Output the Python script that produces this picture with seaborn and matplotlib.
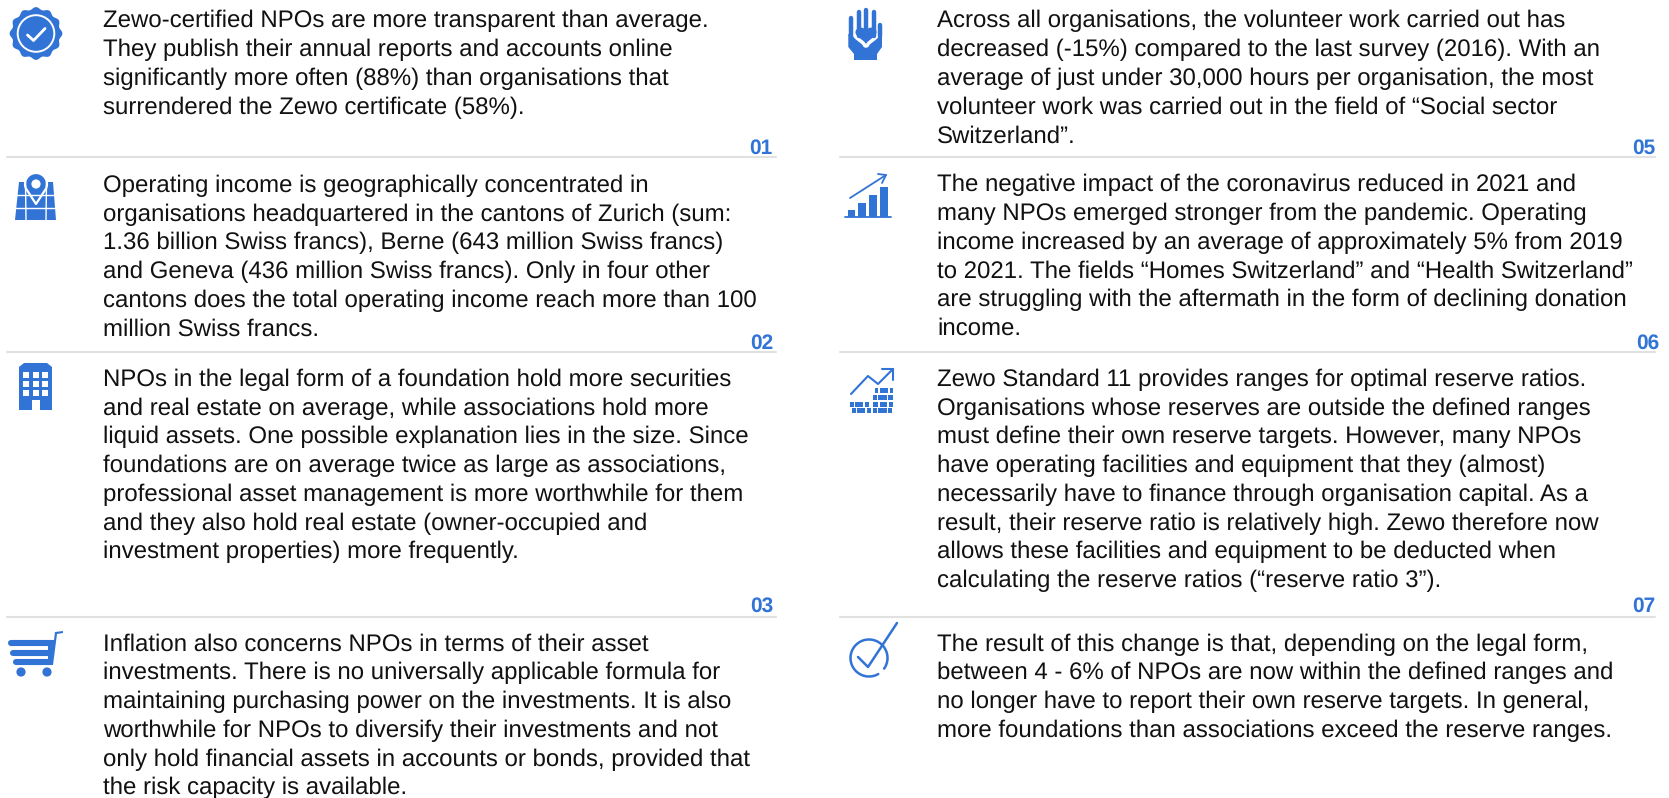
"""Key findings panel: eight numbered text blocks with small icons."""

import matplotlib.pyplot as plt
import numpy as np
import seaborn as sns
from matplotlib.patches import Circle, Polygon, Rectangle

BLUE = "#3174d6"
GRID = "#e1e1e1"
WIDTH, HEIGHT = 1669, 798

block_1 = [
    "Zewo-certified NPOs are more transparent than average.",
    "They publish their annual reports and accounts online",
    "significantly more often (88%) than organisations that",
    "surrendered the Zewo certificate (58%).",
]
block_2 = [
    "Operating income is geographically concentrated in",
    "organisations headquartered in the cantons of Zurich (sum:",
    "1.36 billion Swiss francs), Berne (643 million Swiss francs)",
    "and Geneva (436 million Swiss francs). Only in four other",
    "cantons does the total operating income reach more than 100",
    "million Swiss francs.",
]
block_3 = [
    "NPOs in the legal form of a foundation hold more securities",
    "and real estate on average, while associations hold more",
    "liquid assets. One possible explanation lies in the size. Since",
    "foundations are on average twice as large as associations,",
    "professional asset management is more worthwhile for them",
    "and they also hold real estate (owner-occupied and",
    "investment properties) more frequently.",
]
block_4 = [
    "Inflation also concerns NPOs in terms of their asset",
    "investments. There is no universally applicable formula for",
    "maintaining purchasing power on the investments. It is also",
    "worthwhile for NPOs to diversify their investments and not",
    "only hold financial assets in accounts or bonds, provided that",
    "the risk capacity is available.",
]
block_5 = [
    "Across all organisations, the volunteer work carried out has",
    "decreased (-15%) compared to the last survey (2016). With an",
    "average of just under 30,000 hours per organisation, the most",
    "volunteer work was carried out in the field of \u201cSocial sector",
    "Switzerland\u201d.",
]
block_6 = [
    "The negative impact of the coronavirus reduced in 2021 and",
    "many NPOs emerged stronger from the pandemic. Operating",
    "income increased by an average of approximately 5% from 2019",
    "to 2021. The fields \u201cHomes Switzerland\u201d and \u201cHealth Switzerland\u201d",
    "are struggling with the aftermath in the form of declining donation",
    "income.",
]
block_7 = [
    "Zewo Standard 11 provides ranges for optimal reserve ratios.",
    "Organisations whose reserves are outside the defined ranges",
    "must define their own reserve targets. However, many NPOs",
    "have operating facilities and equipment that they (almost)",
    "necessarily have to finance through organisation capital. As a",
    "result, their reserve ratio is relatively high. Zewo therefore now",
    "allows these facilities and equipment to be deducted when",
    "calculating the reserve ratios (\u201creserve ratio 3\u201d).",
]
block_8 = [
    "The result of this change is that, depending on the legal form,",
    "between 4 - 6% of NPOs are now within the defined ranges and",
    "no longer have to report their own reserve targets. In general,",
    "more foundations than associations exceed the reserve ranges.",
]
blocks = [block_1, block_2, block_3, block_4, block_5, block_6, block_7, block_8]
block_numbers = ["01", "02", "03", None, "05", "06", "07", None]

text_x = [103, 103, 103, 103, 937, 937, 937, 937]
text_y = [27.5, 192, 386, 650.7, 27.5, 191.5, 386, 650.7]
number_x = [772, 773, 773, None, 1655, 1659, 1655, None]
number_y = [154, 349, 612, None, 154, 349, 612, None]
LINE_PITCH = 28.72


def badge_icon(ax):
    angles = np.linspace(0, 2 * np.pi, 361)
    radius = 25.2 + 1.2 * np.cos(12 * angles)
    ax.add_patch(Polygon(np.c_[36 + radius * np.sin(angles), 33.5 - radius * np.cos(angles)], color=BLUE, lw=0))
    ax.add_patch(Circle((36, 33.5), 18.3, fill=False, ec="white", lw=1.4))
    ax.plot([27.5, 33.5, 45], [35, 40.5, 28.5], color="white", lw=2, solid_capstyle="round")


def map_icon(ax):
    ax.add_patch(Polygon([(19, 182), (53, 182), (56, 220), (15, 220)], color=BLUE, lw=0))
    for y in (195, 208):
        ax.plot([14, 58], [y, y], color="white", lw=1)
    ax.plot([25.5, 26], [182, 220], color="white", lw=1)
    ax.plot([46.5, 46], [182, 220], color="white", lw=1)
    t = np.radians(np.linspace(-25, 205, 60))
    pin = np.r_[np.c_[36 + 11 * np.cos(t), 184 - 11 * np.sin(t)], [[36, 204]]]
    ax.add_patch(Polygon(pin, fc=BLUE, ec="white", lw=1.6, joinstyle="round"))
    ax.add_patch(Circle((36, 184), 4.6, color="white", lw=0))


def building_icon(ax):
    ax.add_patch(Polygon([(19, 367), (24, 363), (47, 363), (52, 367), (52, 410), (19, 410)], color=BLUE, lw=0))
    for wx in (23, 32.5, 42):
        for wy in (372, 381, 390):
            ax.add_patch(Rectangle((wx, wy), 6, 6, color="white", lw=0))
    ax.add_patch(Rectangle((32, 400), 8, 10, color="white", lw=0))


def cart_icon(ax):
    ax.add_patch(Polygon([(48, 640), (54, 640), (55, 632), (63, 631), (63, 633), (57, 634), (53, 665), (48, 665)],
                         color=BLUE, lw=0))
    for x0, x1, y in ((11, 52, 643), (13, 50, 653), (16, 49, 662)):
        ax.plot([x0, x1], [y, y], color=BLUE, lw=4.4, solid_capstyle="round")
    for x in (21, 47):
        ax.add_patch(Circle((x, 672), 4.6, color=BLUE, lw=0))


def hand_icon(ax):
    for x, top in ((850.5, 18), (859, 12), (866, 9.5), (874, 12), (879.5, 25)):
        ax.plot([x, x], [top, 36], color=BLUE, lw=3.2, solid_capstyle="round")
    palm = [(848.3, 34), (848.3, 47), (854, 54), (854, 60), (877, 60), (877, 54), (882, 47), (882, 28),
            (878, 28), (853, 34)]
    ax.add_patch(Polygon(palm, color=BLUE, lw=0))
    t = np.linspace(0, 2 * np.pi, 100)
    hx = 16 * np.sin(t) ** 3
    hy = 13 * np.cos(t) - 5 * np.cos(2 * t) - 2 * np.cos(3 * t) - np.cos(4 * t)
    heart = np.c_[866 + hx * 0.66, 34.5 - hy * 0.58]
    ax.add_patch(Polygon(heart, fc=BLUE, ec="white", lw=5, joinstyle="round"))
    ax.add_patch(Polygon(heart, fc=BLUE, lw=0))


def growth_icon(ax):
    ax.plot([845, 891], [217, 217], color=BLUE, lw=1.3)
    for x0, x1, top in ((848, 855, 210), (858, 866, 203), (869, 877, 195), (880, 888, 187)):
        ax.add_patch(Rectangle((x0, top), x1 - x0, 217 - top, color=BLUE, lw=0))
    ax.plot([850, 886], [198, 175], color=BLUE, lw=1.3)
    ax.plot([878, 886, 882], [174, 175, 183], color=BLUE, lw=1.3)


def reserve_icon(ax):
    ax.plot([851, 868, 878, 893], [394, 376, 384, 369], color=BLUE, lw=1.5)
    ax.plot([882, 893, 893], [369, 369, 380], color=BLUE, lw=1.5)
    rows = {
        388: [(875, 878), (880, 888), (890, 893)],
        395: [(873, 877), (878, 887), (888, 893)],
        402: [(850, 854), (855, 863), (865, 869), (873, 878), (880, 887), (889, 893)],
        408: [(852, 856), (857, 865), (867, 871), (873, 877), (878, 887), (888, 892)],
    }
    for y, spans in rows.items():
        for x0, x1 in spans:
            ax.add_patch(Rectangle((x0, y), x1 - x0, 5, color=BLUE, lw=0))


def check_icon(ax):
    t = np.radians(np.linspace(-35, 300, 100))
    ax.plot(869 + 18.5 * np.cos(t), 658 - 18.5 * np.sin(t), color=BLUE, lw=1.8, solid_capstyle="round")
    ax.plot([858, 868, 897], [657, 667, 623], color=BLUE, lw=1.8, solid_capstyle="round")


sns.set_theme(style="white")
plt.rcParams["font.family"] = ["Liberation Sans", "DejaVu Sans"]
plt.rcParams["text.hinting"] = "none"

fig, ax = plt.subplots(figsize=(WIDTH / 100, HEIGHT / 100), dpi=100)
ax.set_position([0, 0, 1, 1])
ax.set_xlim(0, WIDTH)
ax.set_ylim(HEIGHT, 0)
ax.axis("off")

for y in (157, 352, 617):
    ax.plot([7, 776], [y, y], color=GRID, lw=1.5)
    ax.plot([840, 1655], [y, y], color=GRID, lw=1.5)

for lines, x, y in zip(blocks, text_x, text_y):
    for i, line in enumerate(lines):
        ax.text(x, y + i * LINE_PITCH, line, fontsize=17.3, color="#111111", va="baseline", ha="left")

for label, x, y in zip(block_numbers, number_x, number_y):
    if label is not None:
        ax.text(x, y, label, fontsize=15, fontweight="bold", color=BLUE, va="baseline", ha="right")

for draw in (badge_icon, map_icon, building_icon, cart_icon, hand_icon, growth_icon, reserve_icon, check_icon):
    draw(ax)

fig.savefig("out.png", dpi=100)
